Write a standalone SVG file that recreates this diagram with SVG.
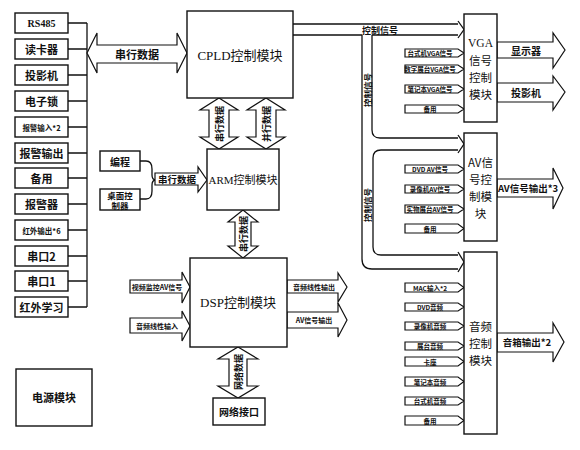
<svg xmlns="http://www.w3.org/2000/svg" width="580" height="450" viewBox="0 0 580 450">
<style>
.b{fill:#fff;stroke:#111;stroke-width:1.4}
.ln{fill:none;stroke:#111;stroke-width:1.3}
.ar{fill:#fff;stroke:#111;stroke-width:1.2}
.t{font-family:"Noto Sans CJK SC","Noto Sans",sans-serif;font-weight:bold;fill:#111;text-anchor:middle;dominant-baseline:central}
.s{font-family:"Liberation Serif","Noto Sans CJK SC",serif;font-weight:bold;fill:#111;text-anchor:middle;dominant-baseline:central}
.n{font-family:"Liberation Serif","Noto Sans CJK SC",serif;font-weight:normal;fill:#111;text-anchor:middle;dominant-baseline:central}
.m{font-family:"Noto Sans CJK SC",sans-serif;fill:#111;text-anchor:middle;dominant-baseline:central;font-size:11.5px}
</style>
<rect width="580" height="450" fill="#fff"/>

<g id="connectors">
<path class="ln" d="M68,23H87M68,49H87M68,75H87M68,101H87M68,127H87M68,153H87M68,178H87M68,204H87M68,230H87M68,256H87M68,281H87M68,307H87M87,23V307"/>
<polygon class="ar" points="87,53 97,33 97,45 177,45 177,33 187,53 177,73 177,63 97,63 97,73"/>
<text class="t" x="137" y="54" font-size="11">串行数据</text>
<polygon class="ar" points="219,98 238,110 229,110 229,137 238,137 219,149 200,137 209,137 209,110 200,110"/>
<text class="t" font-size="9" transform="translate(219,124) rotate(-90)">串行数据</text>
<polygon class="ar" points="266,98 285,110 276,110 276,137 285,137 266,149 247,137 256,137 256,110 247,110"/>
<text class="t" font-size="9" transform="translate(266,124) rotate(-90)">并行数据</text>
<polygon class="ar" points="243,210 258,222 251,222 251,246 258,246 243,258 228,246 235,246 235,222 228,222"/>
<text class="t" font-size="9" transform="translate(243,234) rotate(-90)">串行数据</text>
<polygon class="ar" points="238,347 258,359 247,359 247,386 258,386 238,398 218,386 229,386 229,359 218,359"/>
<text class="t" font-size="9" transform="translate(238,372) rotate(-90)">网络数据</text>
<path class="ln" d="M140,161H146Q152,161 152,169V175Q152,180 156,180M140,199H146Q152,199 152,191V185Q152,180 156,180"/>
<polygon class="ar" points="155,173 198,173 198,167 207,180 198,192 198,185 155,185"/>
<text class="t" x="177" y="179" font-size="9.5">串行数据</text>
<polygon class="ar" points="130,280 182,280 182,272 190,287 182,303 182,293 130,293"/>
<text class="t" x="157" y="286.5" font-size="7">视频监控AV信号</text>
<polygon class="ar" points="130,318 182,318 182,311 190,326 182,341 182,333 130,333"/>
<text class="t" x="157" y="325.5" font-size="7">音频线性输入</text>
<polygon class="ar" points="287,280 338,280 338,273 347,287 338,302 338,293 287,293"/>
<text class="t" x="314" y="286.5" font-size="7">音频线性输出</text>
<polygon class="ar" points="287,312 338,312 338,303 347,320 338,337 338,328 287,328"/>
<text class="t" x="314" y="320" font-size="7">AV信号输出</text>
<path class="ln" d="M293,24H458M293,35H362M372,35H458M458,21L464,29.5L458,38"/>
<path class="ln" d="M362,35V259Q362,269 372,269H458M372,35V130Q372,138 380,138H458M458,150H381Q373,150 373,158V247Q373,255 381,255H458"/>
<path class="ln" d="M458,135L464,144L458,153M458,252L464,262L458,272"/>
<text class="t" x="380" y="30" font-size="9">控制信号</text>
<text class="t" font-size="8.5" transform="translate(367,90) rotate(-90)">控制信号</text>
<text class="t" font-size="8.5" transform="translate(367,205) rotate(-90)">控制信号</text>
<path class="ar" d="M405,49H458L464,53L458,57H405Z"/>
<text class="t" x="430" y="53" font-size="6.5">台式机VGA信号</text>
<path class="ar" d="M405,65H458L464,69L458,73H405Z"/>
<text class="t" x="430" y="69" font-size="6.5">数字展台VGA信号</text>
<path class="ar" d="M405,85H458L464,89L458,93H405Z"/>
<text class="t" x="430" y="89" font-size="6.5">笔记本VGA信号</text>
<path class="ar" d="M405,105H458L464,109L458,113H405Z"/>
<text class="t" x="430" y="109" font-size="6.5">备用</text>
<polygon class="ar" points="497,42 553,42 553,33 565,50 553,68 553,58 497,58"/>
<text class="t" x="526" y="50" font-size="10">显示器</text>
<polygon class="ar" points="497,83 553,83 553,76 565,92 553,110 553,102 497,102"/>
<text class="t" x="526" y="92" font-size="10">投影机</text>
<path class="ar" d="M405,165H458L464,169L458,173H405Z"/>
<text class="t" x="430" y="169" font-size="6.5">DVD AV信号</text>
<path class="ar" d="M405,185H458L464,189L458,193H405Z"/>
<text class="t" x="430" y="189" font-size="6.5">录像机AV信号</text>
<path class="ar" d="M405,205H458L464,209L458,213H405Z"/>
<text class="t" x="430" y="209" font-size="6.5">实物展台AV信号</text>
<path class="ar" d="M405,224H458L464,228.5L458,233H405Z"/>
<text class="t" x="430" y="228.5" font-size="6.5">备用</text>
<polygon class="ar" points="497,179 553,179 553,168 563,188 553,209 553,197 497,197"/>
<text class="t" x="528" y="188" font-size="9.5">AV信号输出*3</text>
<path class="ar" d="M405,283H458L464,287.5L458,292H405Z"/>
<text class="t" x="430" y="287.5" font-size="6.5">MAC输入*2</text>
<path class="ar" d="M405,303H458L464,307L458,311H405Z"/>
<text class="t" x="430" y="307" font-size="6.5">DVD音频</text>
<path class="ar" d="M405,322H458L464,326L458,330H405Z"/>
<text class="t" x="430" y="326" font-size="6.5">录像机音频</text>
<path class="ar" d="M405,342H458L464,346L458,350H405Z"/>
<text class="t" x="430" y="346" font-size="6.5">展台音频</text>
<path class="ar" d="M405,357H458L464,361.5L458,366H405Z"/>
<text class="t" x="430" y="361.5" font-size="6.5">卡座</text>
<path class="ar" d="M405,377H458L464,381.5L458,386H405Z"/>
<text class="t" x="430" y="381.5" font-size="6.5">笔记本音频</text>
<path class="ar" d="M405,397H458L464,401L458,405H405Z"/>
<text class="t" x="430" y="401" font-size="6.5">台式机音频</text>
<path class="ar" d="M405,416H458L464,420.5L458,425H405Z"/>
<text class="t" x="430" y="420.5" font-size="6.5">备用</text>
<polygon class="ar" points="497,333 553,333 553,323 564,342 553,362 553,352 497,352"/>
<text class="t" x="527" y="342" font-size="9.5">音箱输出*2</text>
</g>

<g id="left-devices">
<g id="n-rs485"><rect class="b" x="15" y="13" width="53" height="20"/><text class="s" x="41.5" y="23" font-size="10">RS485</text></g>
<g id="n-dkq"><rect class="b" x="15" y="39" width="53" height="20"/><text class="t" x="41.5" y="49" font-size="11">读卡器</text></g>
<g id="n-tyj"><rect class="b" x="15" y="65" width="53" height="20"/><text class="t" x="41.5" y="75" font-size="11">投影机</text></g>
<g id="n-dzs"><rect class="b" x="15" y="91" width="53" height="20"/><text class="t" x="41.5" y="101" font-size="11">电子锁</text></g>
<g id="n-bjsr"><rect class="b" x="15" y="117" width="53" height="20"/><text class="t" x="41.5" y="127" font-size="7.5">报警输入*2</text></g>
<g id="n-bjsc"><rect class="b" x="15" y="143" width="53" height="20"/><text class="t" x="41.5" y="153" font-size="11">报警输出</text></g>
<g id="n-by"><rect class="b" x="15" y="168" width="53" height="20"/><text class="t" x="41.5" y="178" font-size="11">备用</text></g>
<g id="n-bjq"><rect class="b" x="15" y="194" width="53" height="20"/><text class="t" x="41.5" y="204" font-size="11">报警器</text></g>
<g id="n-hwsc"><rect class="b" x="15" y="220" width="53" height="20"/><text class="t" x="41.5" y="230" font-size="7.5">红外输出*6</text></g>
<g id="n-ck2"><rect class="b" x="15" y="246" width="53" height="20"/><text class="t" x="41.5" y="256" font-size="11">串口2</text></g>
<g id="n-ck1"><rect class="b" x="15" y="271" width="53" height="20"/><text class="t" x="41.5" y="281" font-size="11">串口1</text></g>
<g id="n-hwxx"><rect class="b" x="15" y="297" width="53" height="20"/><text class="t" x="41.5" y="307" font-size="11">红外学习</text></g>
</g>

<g id="n-power"><rect class="b" x="16" y="369" width="76" height="57"/><text class="t" x="54" y="397" font-size="11">电源模块</text></g>
<g id="n-cpld"><rect class="b" x="187" y="11" width="106" height="87"/><text class="n" x="240" y="55" font-size="13">CPLD控制模块</text></g>
<g id="n-arm"><rect class="b" x="207" y="149" width="72" height="61"/><text class="n" x="243" y="180" font-size="11">ARM控制模块</text></g>
<g id="n-bc"><rect class="b" x="100" y="151" width="40" height="20"/><text class="t" x="120" y="161" font-size="10">编程</text></g>
<g id="n-zmkzq"><rect class="b" x="100" y="189" width="40" height="21"/><text class="t" x="120" y="194.5" font-size="8.5">桌面控</text><text class="t" x="120" y="205" font-size="8.5">制器</text></g>
<g id="n-dsp"><rect class="b" x="190" y="258" width="97" height="89"/><text class="n" x="238" y="302" font-size="13">DSP控制模块</text></g>
<g id="n-net"><rect class="b" x="213" y="398" width="52" height="27"/><text class="t" x="239" y="411.5" font-size="10">网络接口</text></g>
<g id="n-vga"><rect class="b" x="464" y="14" width="33" height="108"/><text class="n" x="480.5" y="43" font-size="11.5">VGA</text><text class="m" x="480.5" y="60">信号</text><text class="m" x="480.5" y="77">控制</text><text class="m" x="480.5" y="94">模块</text></g>
<g id="n-av"><rect class="b" x="464" y="133" width="33" height="108"/><text class="m" x="480.5" y="162">AV信</text><text class="m" x="480.5" y="179">号控</text><text class="m" x="480.5" y="196">制模</text><text class="m" x="480.5" y="213">块</text></g>
<g id="n-audio"><rect class="b" x="464" y="252" width="33" height="182"/><text class="m" x="480.5" y="326">音频</text><text class="m" x="480.5" y="343">控制</text><text class="m" x="480.5" y="360">模块</text></g>
</svg>
